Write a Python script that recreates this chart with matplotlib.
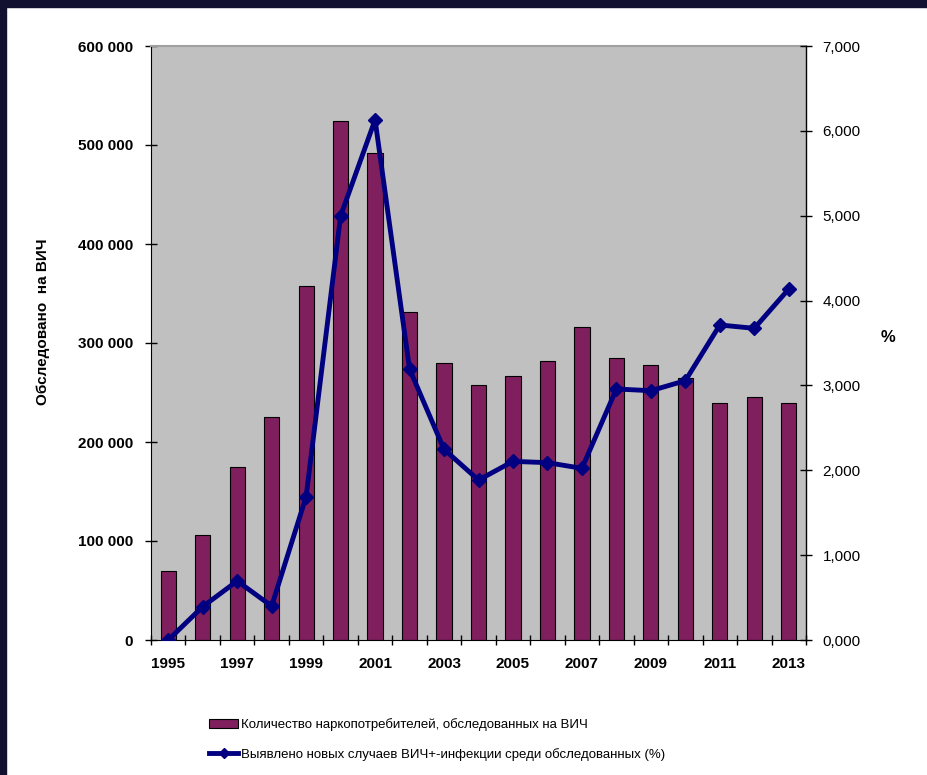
import numpy as np
import matplotlib
matplotlib.use("Agg")
import matplotlib.pyplot as plt
from matplotlib.patches import Rectangle
from matplotlib.lines import Line2D
from matplotlib.ticker import FixedLocator, FuncFormatter

# данные
years = list(range(1995, 2014))
tested = [70000, 106000, 175000, 225500, 357500, 524000, 492000, 331000, 279500,
          258000, 266500, 281500, 316500, 285000, 278000, 265000, 239000, 245500, 239000]
hiv_pct = [0.000, 0.393, 0.695, 0.400, 1.690, 4.997, 6.130, 3.193, 2.247,
           1.885, 2.105, 2.090, 2.023, 2.958, 2.938, 3.056, 3.712, 3.673, 4.136]

bar_label = "Количество наркопотребителей, обследованных на ВИЧ"
line_label = "Выявлено новых случаев ВИЧ+-инфекции среди обследованных (%)"

plt.rcParams['font.family'] = ['Liberation Sans', 'DejaVu Sans']

fig = plt.figure(figsize=(9.27, 7.75), dpi=100)
# тёмная рамка слева и сверху
fig.patches.append(Rectangle((0, 0), 6 / 927, 1, transform=fig.transFigure,
                             color='#12112F', zorder=-1))
fig.patches.append(Rectangle((0, 1 - 7 / 775), 1, 7 / 775, transform=fig.transFigure,
                             color='#12112F', zorder=-1))

ax = fig.add_axes([151 / 927, 1 - 640 / 775, (806 - 151) / 927, (640 - 46) / 775])
ax.set_facecolor('#C0C0C0')

x = np.arange(len(years))
ax.bar(x, tested, width=0.44, color='#7F1F5E', edgecolor='black', linewidth=0.8, zorder=2)
ax.set_xlim(-0.5, len(years) - 0.5)
ax.set_ylim(0, 600000)
ax.set_yticks(np.arange(0, 600001, 100000))
ax.yaxis.set_major_formatter(FuncFormatter(lambda v, p: f"{v:,.0f}".replace(',', ' ')))

ax.set_xticks(x[::2])
ax.set_xticklabels([str(y) for y in years[::2]], fontweight='bold', fontsize=11)
ax.xaxis.set_minor_locator(FixedLocator(np.arange(-0.5, len(years), 1.0)))
ax.tick_params(axis='x', which='major', length=0, pad=12)
ax.tick_params(axis='x', which='minor', direction='inout', length=7, width=1)
ax.tick_params(axis='y', direction='inout', length=8, width=1, pad=9, labelsize=11)
for t in ax.get_yticklabels():
    t.set_fontweight('bold')

ax.spines['top'].set_color('#A0A0A0')
ax.spines['top'].set_linewidth(1.5)
ax.spines['right'].set_visible(False)

ax.set_ylabel("Обследовано  на ВИЧ", fontsize=11, fontweight='bold')
ax.yaxis.set_label_coords(-0.154, 0.536)

ax2 = ax.twinx()
ax2.plot(x, hiv_pct, color='#000080', linewidth=3.5, marker='D', markersize=7.5,
         markeredgewidth=1, zorder=3)
ax2.set_ylim(0, 7)
ax2.set_yticks(np.arange(0, 8, 1))
ax2.yaxis.set_major_formatter(FuncFormatter(lambda v, p: f"{v:.3f}".replace('.', ',')))
ax2.tick_params(axis='y', direction='inout', length=8, width=1, pad=8, labelsize=11)
ax2.spines['top'].set_visible(False)
ax2.spines['left'].set_visible(False)
ax2.spines['bottom'].set_visible(False)
ax2.spines['right'].set_linewidth(1)
ax2.set_ylabel("%", fontsize=12, fontweight='bold', rotation=0, va='center', ha='center')
ax2.yaxis.set_label_coords(1.125, 0.51)

handles = [Rectangle((0, 0), 1, 1, facecolor='#7F1F5E', edgecolor='black', linewidth=0.8),
           Line2D([], [], color='#000080', linewidth=3.5, marker='D', markersize=5)]
fig.legend(handles, [bar_label, line_label], loc='upper left',
           bbox_to_anchor=(204 / 927, 1 - 713 / 775), frameon=False,
           prop={'size': 9.5}, handlelength=2.2, handleheight=0.6,
           handletextpad=0.2, labelspacing=1.25, borderaxespad=0)

fig.savefig('out.png', dpi=100)
